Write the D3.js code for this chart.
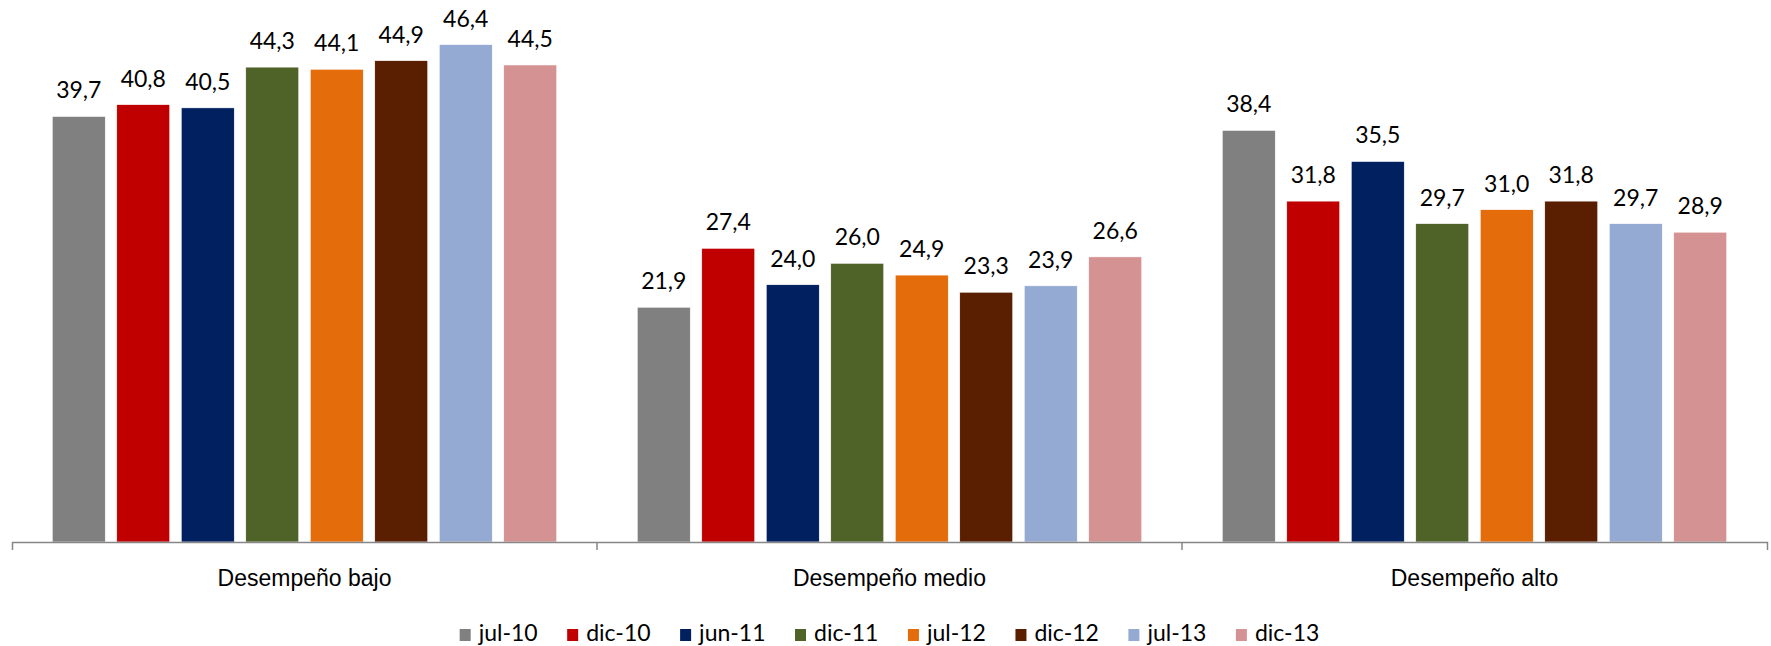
<!DOCTYPE html>
<html>
<head>
<meta charset="utf-8">
<script src="https://cdn.jsdelivr.net/npm/d3@7"></script>
<style>
  html, body { margin: 0; padding: 0; background: #fff; }
  svg { display: block; font-family: Lato, "Open Sans", sans-serif; }
  .value-label { font-size: 23px; fill: #000; }
  .axis text { font-size: 23px; fill: #000; }
  .axis path, .axis line { stroke: #868686; stroke-width: 1.5; }
  .legend text { font-size: 23px; fill: #000; }
</style>
</head>
<body>
<svg id="chart"></svg>
<script>
/*
  BAR CHART
  Desempeño por periodo, barras agrupadas por nivel
*/
const categories = ['Desempeño bajo', 'Desempeño medio', 'Desempeño alto'];
const periods = ['jul-10', 'dic-10', 'jun-11', 'dic-11', 'jul-12', 'dic-12', 'jul-13', 'dic-13'];
const colors = ['#808080', '#C00000', '#002060', '#4F6228', '#E46C0A', '#5A1F00', '#95AAD2', '#D49292'];

// one array per category, in the order of periods
const bajo = [39.7, 40.8, 40.5, 44.3, 44.1, 44.9, 46.4, 44.5];
const medio = [21.9, 27.4, 24.0, 26.0, 24.9, 23.3, 23.9, 26.6];
const alto = [38.4, 31.8, 35.5, 29.7, 31.0, 31.8, 29.7, 28.9];

const seriesByCategory = [bajo, medio, alto];

const WIDTH = 1771;
const HEIGHT = 646;
const margin = { left: 12, right: 4, top: 6, bottom: 104 };
const LEGEND_GAP = 29.5;

// decimal comma
const locale = d3.formatLocale({ decimal: ',', thousands: '.', grouping: [3], currency: ['', ''] });
const fmt = locale.format('.1f');

/**
 * Create scales
 */
const scale = {};
scale.x0 = d3.scaleBand()
  .domain(categories)
  .range([margin.left, WIDTH - margin.right])
  .padding(0);

scale.x1 = d3.scaleBand()
  .domain(periods)
  .range([0, scale.x0.bandwidth()])
  .paddingInner(0.178)
  .paddingOuter(0.624);

scale.y = d3.scaleLinear()
  .domain([0, 50])
  .range([HEIGHT - margin.bottom, margin.top]);

scale.color = d3.scaleOrdinal()
  .domain(periods)
  .range(colors);

/**
 * Initialize SVG
 */
const dom = {};
dom.svg = d3.select('#chart')
  .attr('width', WIDTH)
  .attr('height', HEIGHT);

const rows = categories.map((c, i) => ({
  category: c,
  values: periods.map((p, j) => ({ period: p, value: seriesByCategory[i][j] }))
}));

dom.groups = dom.svg.append('g')
  .selectAll('g')
  .data(rows)
  .join('g')
  .attr('transform', d => `translate(${scale.x0(d.category)}, 0)`);

dom.groups.selectAll('rect')
  .data(d => d.values)
  .join('rect')
  .attr('x', d => scale.x1(d.period))
  .attr('y', d => scale.y(d.value))
  .attr('width', scale.x1.bandwidth())
  .attr('height', d => scale.y(0) - scale.y(d.value))
  .attr('fill', d => scale.color(d.period))
  .attr('stroke', '#fff')
  .attr('stroke-width', 0.6);

dom.groups.selectAll('text')
  .data(d => d.values)
  .join('text')
  .attr('class', 'value-label')
  .attr('x', d => scale.x1(d.period) + scale.x1.bandwidth() / 2)
  .attr('y', d => scale.y(d.value) - 18)
  .attr('text-anchor', 'middle')
  .text(d => fmt(d.value));

/*
 * Axis: labels centered, ticks between categories
 */
const axis = {};
axis.x = d3.axisBottom(scale.x0)
  .tickSizeInner(0)
  .tickSizeOuter(8)
  .tickPadding(28);

dom.axis = dom.svg.append('g')
  .attr('class', 'axis')
  .attr('transform', `translate(0, ${scale.y(0)})`)
  .call(axis.x);

dom.axis.selectAll('.tick text').attr('dy', 0).attr('y', 44);

dom.axis.selectAll('.divider')
  .data(categories.slice(1))
  .join('line')
  .attr('class', 'divider')
  .attr('x1', d => scale.x0(d))
  .attr('x2', d => scale.x0(d))
  .attr('y1', 0)
  .attr('y2', 8);

/*
 * Legend, laid out from text widths and centered
 */
dom.legend = dom.svg.append('g').attr('class', 'legend');

const items = dom.legend.selectAll('g')
  .data(periods)
  .join('g');

items.append('rect')
  .attr('y', -12)
  .attr('width', 11)
  .attr('height', 12)
  .attr('fill', d => scale.color(d));

items.append('text')
  .attr('x', 19)
  .text(d => d);

let cursor = 0;
items.each(function() {
  const g = d3.select(this);
  const w = g.select('text').node().getComputedTextLength();
  g.attr('transform', `translate(${cursor}, 0)`);
  cursor += 19 + w + LEGEND_GAP;
});
const legendWidth = cursor - LEGEND_GAP;
dom.legend.attr('transform', `translate(${(WIDTH - legendWidth) / 2 + 4}, 641)`);
</script>
</body>
</html>
